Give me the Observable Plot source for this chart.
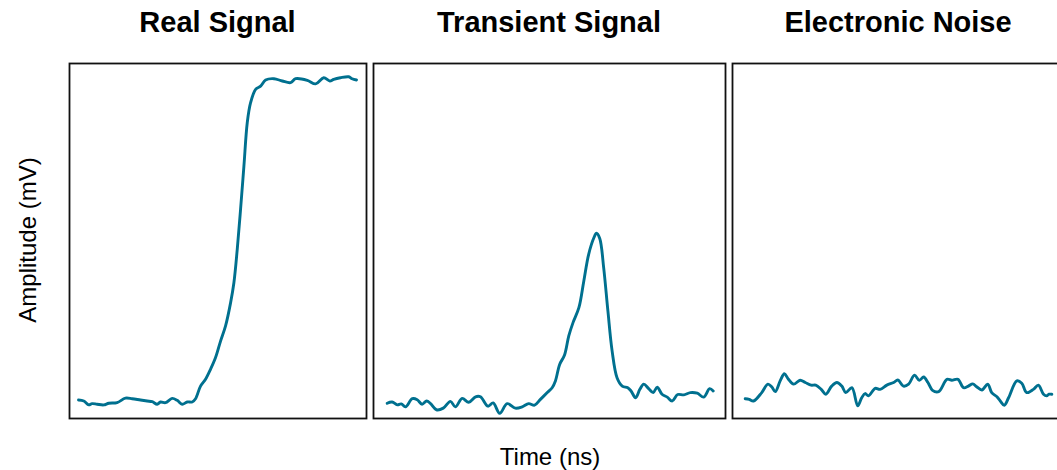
<!DOCTYPE html>
<html>
<head>
<meta charset="utf-8">
<script src="https://cdn.jsdelivr.net/npm/d3@7"></script>
<script src="https://cdn.jsdelivr.net/npm/@observablehq/plot@0.6"></script>
<style>
  html, body { margin: 0; padding: 0; background: #fff; overflow: hidden; }
  #chart { position: relative; width: 1057px; height: 470px; font-family: "Liberation Sans", Arial, sans-serif; color: #000; }
  .panel { position: absolute; }
  .title { position: absolute; top: 6px; font-size: 29px; font-weight: bold; text-align: center; white-space: nowrap; transform: translateX(-50%); }
  .xlab { position: absolute; top: 443px; left: 550px; transform: translateX(-50%); font-size: 24px; white-space: nowrap; }
  .ylab { position: absolute; left: 28px; top: 240px; transform: translate(-50%, -50%) rotate(-90deg); font-size: 24px; white-space: nowrap; }
</style>
</head>
<body>
<div id="chart"></div>
<script>
// Panel titles
const panelTitles = ["Real Signal", "Transient Signal", "Electronic Noise"];

// Real signal: step from baseline to ~100 mV
const realTime = [0, 1.9, 3.7, 4.9, 6.7, 9.1, 10.9, 13.9, 16.9, 19.3, 22.3, 24.7, 26.5, 28.3, 29.5, 31.3, 33.7, 35.5, 37.3, 39.1, 40.9, 42.1, 43.9, 45.7, 47.5, 49.3, 51.1, 52.9, 54.7, 55.9, 57.1, 58.3, 59.5, 60.7, 61.9, 63.7, 65.5, 67.3, 70.3, 73.3, 76.3, 78.1, 82.3, 85.3, 88.2, 90.4, 91.8, 94.2, 97.2, 98.4, 100];
const realAmp = [0.6, 0.3, -0.9, -0.5, -0.7, -0.9, -0.4, -0.2, 1.2, 1.0, 0.6, 0.3, 0.1, -0.7, 0, -0.2, 1.1, 0.5, -0.7, 0, 0, 1.0, 4.9, 7.0, 10.1, 13.7, 18.8, 23.5, 30.6, 36.8, 47.1, 59.5, 72.8, 86.2, 92.4, 96.5, 97.5, 99.4, 99.8, 99.1, 98.6, 99.8, 99.3, 98.2, 100.1, 99.1, 99.6, 100.1, 100.4, 99.8, 99.4];

// Transient signal: short pulse on a noisy baseline
const transTime = [0, 1.5, 3.1, 4.3, 5.6, 7.7, 9.2, 10.7, 12.1, 13.3, 15.1, 17.2, 19.4, 20.9, 23.0, 25.0, 27.1, 28.6, 30.9, 32.5, 34.5, 36.8, 39.3, 41.4, 43.4, 45.2, 47.0, 49.1, 50.6, 51.6, 52.9, 54.4, 55.7, 57.0, 58.8, 60.3, 61.8, 63.4, 64.2, 65.2, 66.4, 67.7, 69.0, 70.5, 72.1, 73.8, 74.8, 76.2, 77.5, 78.7, 80.2, 81.6, 82.8, 84.3, 85.9, 87.4, 89.1, 91.0, 93.0, 95.1, 97.1, 98.9, 100];
const transAmp = [-0.4, 0, -0.9, -0.6, -1.5, 1.0, 0.7, -0.7, 0.3, -0.5, -2.4, -1.9, 0.2, -1.5, 1.1, -0.1, 1.6, 1.6, -1.3, -0.3, -3.5, -0.5, -1.9, -1.5, -0.5, -1.0, 0.8, 2.9, 4.4, 6.5, 11.6, 14.5, 20.4, 24.5, 29.1, 37.3, 45.6, 50.7, 52.1, 50.5, 41.5, 28.1, 15.7, 7.5, 4.9, 4.4, 3.4, 1.3, 3.9, 5.5, 4.1, 2.9, 4.6, 2.4, 1.5, 0.3, 2.3, 2.2, 2.9, 2.7, 1.5, 4.1, 3.4];

// Electronic noise: fluctuations only
const noiseTime = [0, 1.3, 2.7, 5.4, 7.4, 8.7, 9.8, 11.4, 12.8, 14.1, 15.8, 17.9, 19.6, 21.5, 23.0, 24.8, 26.3, 28.2, 29.9, 31.5, 32.8, 34.8, 36.7, 38.0, 39.1, 40.2, 42.4, 44.0, 46.2, 48.4, 49.8, 51.6, 53.3, 55.2, 56.8, 58.2, 59.6, 61.1, 63.1, 65.8, 67.4, 69.4, 71.2, 72.8, 74.2, 75.5, 77.2, 79.1, 80.4, 82.1, 83.2, 84.5, 85.9, 88.6, 90.2, 91.8, 94.0, 95.6, 97.3, 98.3, 99.1, 100];
const noiseAmp = [1.0, 0.8, 0.3, 2.9, 5.5, 4.6, 3.2, 6.5, 8.7, 7.0, 5.5, 6.7, 6.0, 5.2, 5.2, 3.9, 2.4, 4.9, 6.0, 4.9, 2.9, 4.4, -1.2, 1.3, 2.6, 1.9, 4.2, 3.9, 5.2, 6.0, 6.8, 4.9, 5.5, 8.3, 6.7, 7.7, 6.0, 3.6, 3.2, 7.0, 6.7, 7.0, 4.4, 4.9, 5.6, 4.7, 3.7, 5.5, 2.9, 1.6, 0.3, -1.0, 1.3, 6.5, 5.8, 2.9, 3.9, 5.2, 2.4, 1.9, 2.4, 2.4];

const lineColor = "#00708f";
const yDomain = [-5.1, 104.5];
const xDomain = [0, 100];

const toRows = (t, a) => t.map((v, i) => ({time: v, amp: a[i]}));

const panels = [
  {title: panelTitles[0], rows: toRows(realTime, realAmp), left: 69, width: 297, insetLeft: 9, insetRight: 10},
  {title: panelTitles[1], rows: toRows(transTime, transAmp), left: 373, width: 352, insetLeft: 13.7, insetRight: 12.3},
  {title: panelTitles[2], rows: toRows(noiseTime, noiseAmp), left: 732, width: 332, insetLeft: 12.7, insetRight: 12.7}
];

const panelTop = 62.5, panelHeight = 355, pad = 2;
const chart = document.getElementById("chart");

for (const p of panels) {
  const svg = Plot.plot({
    width: p.width + 2 * pad,
    height: panelHeight + 2 * pad,
    margin: pad,
    x: {domain: xDomain, axis: null, insetLeft: p.insetLeft, insetRight: p.insetRight},
    y: {domain: yDomain, axis: null},
    marks: [
      Plot.line(p.rows, {x: "time", y: "amp", stroke: lineColor, strokeWidth: 2.9, curve: "catmull-rom"}),
      Plot.frame({stroke: "#111", strokeWidth: 1.8})
    ]
  });
  svg.classList.add("panel");
  svg.style.left = (p.left - pad) + "px";
  svg.style.top = (panelTop - pad) + "px";
  chart.appendChild(svg);

  const t = document.createElement("div");
  t.className = "title";
  t.textContent = p.title;
  t.style.left = (p.left + p.width / 2) + "px";
  chart.appendChild(t);
}

const xl = document.createElement("div");
xl.className = "xlab";
xl.textContent = "Time (ns)";
chart.appendChild(xl);

const yl = document.createElement("div");
yl.className = "ylab";
yl.textContent = "Amplitude (mV)";
chart.appendChild(yl);
</script>
</body>
</html>
